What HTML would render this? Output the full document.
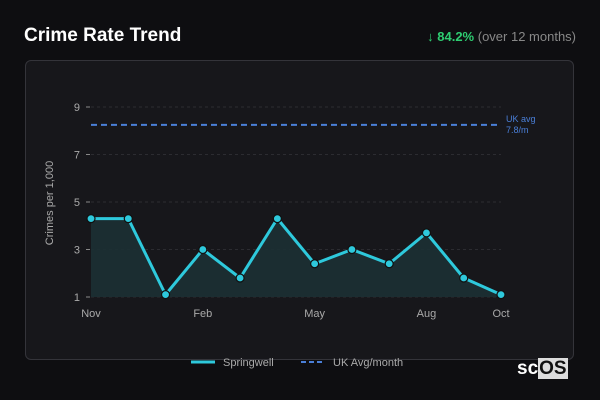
<!DOCTYPE html>
<html><head><meta charset="utf-8"><style>
body{margin:0;width:600px;height:400px;background:#0e0e11;font-family:"Liberation Sans",sans-serif;overflow:hidden;position:relative}
.t{position:absolute;left:24px;top:25px;color:#fff;font-weight:bold;font-size:19px}
.s{position:absolute;right:24px;top:29px;font-size:13px;color:#888}
.s b{color:#2ecc71}
.p{position:absolute;left:25px;top:60px;width:549px;height:300px;background:#17171b;border:1px solid #34343a;border-radius:6px;box-sizing:border-box}
svg{position:absolute;left:0;top:0}
.logo{position:absolute;left:517px;top:358px;color:#fff;font-size:19px;font-weight:bold}
.logo span{background:#ddd;color:#111;padding:0 1px}
</style></head><body>
<div class="t">Crime Rate Trend</div>
<div class="s"><b>↓ 84.2%</b> (over 12 months)</div>
<div class="p"></div>
<svg id="c" width="600" height="400"></svg>
<div class="logo">sc<span>OS</span></div>
<script>
const months=["Nov","Dec","Jan","Feb","Mar","Apr","May","Jun","Jul","Aug","Sep","Oct"];
const values=[4.3,4.3,1.1,3.0,1.8,4.3,2.4,3.0,2.4,3.7,1.8,1.1];
const yTicks=[1,3,5,7,9];
const xLabels=["Nov","Feb","May","Aug","Oct"];
const ukAvg=[8.25];
const svg=document.getElementById('c');const NS='http://www.w3.org/2000/svg';
const x=i=>91+i*(410/(months.length-1));
const y=v=>297-(v-1)*23.75;
function mk(t,a,txt){const e=document.createElementNS(NS,t);for(const k in a)e.setAttribute(k,a[k]);if(txt!=null)e.textContent=txt;svg.appendChild(e);return e;}
yTicks.forEach(v=>{
 const g=mk('line',{x1:91,x2:501,y1:y(v),y2:y(v),stroke:'#2c2c31','stroke-dasharray':'3,3'});
 
 mk('line',{x1:86,x2:90,y1:y(v),y2:y(v),stroke:'#888'});
 const t=mk('text',{x:80,y:y(v)+4,fill:'#aaa','font-size':11,'text-anchor':'end'},v);
 
});
xLabels.forEach(l=>{const i=months.indexOf(l);
 const t=mk('text',{x:x(i),y:317,fill:'#aaa','font-size':11,'text-anchor':'middle'},l);
 });
const yt=mk('text',{x:0,y:0,fill:'#aaa','font-size':11,'text-anchor':'middle',transform:'translate(53,203) rotate(-90)'},'Crimes per 1,000');

const pts=values.map((v,i)=>x(i)+','+y(v)).join(' ');
const area=mk('polygon',{points:x(0)+','+y(1)+' '+pts+' '+x(values.length-1)+','+y(1),fill:'#1c3034',opacity:0.9});

const uk=mk('line',{x1:91,x2:497,y1:y(ukAvg[0]),y2:y(ukAvg[0]),stroke:'#4a7fd8','stroke-width':2,'stroke-dasharray':'6,4'});

mk('text',{x:506,y:y(ukAvg[0])-3,fill:'#4a7fd8','font-size':9},'UK avg');
mk('text',{x:506,y:y(ukAvg[0])+8,fill:'#4a7fd8','font-size':9},'7.8/m');
const ln=mk('polyline',{points:pts,fill:'none',stroke:'#2ec9dc','stroke-width':3,'stroke-linejoin':'round'});

values.forEach((v,i)=>{const c=mk('circle',{cx:x(i),cy:y(v),r:4,fill:'#2ec9dc',stroke:'#111','stroke-width':1.2});
 });
mk('line',{x1:191,x2:215,y1:362,y2:362,stroke:'#2ec9dc','stroke-width':3});
const l1=mk('text',{x:223,y:366,fill:'#aaa','font-size':11},'Springwell');

mk('line',{x1:301,x2:325,y1:362,y2:362,stroke:'#4a7fd8','stroke-width':2,'stroke-dasharray':'5,3'});
const l2=mk('text',{x:333,y:366,fill:'#aaa','font-size':11},'UK Avg/month');

</script>
</body></html>
